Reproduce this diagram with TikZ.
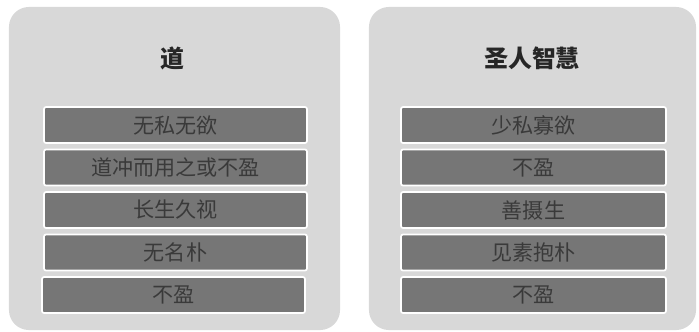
\documentclass[tikz,border=0pt]{standalone}
\usepackage{fontspec}
\setmainfont{Noto Sans CJK SC}
\usetikzlibrary{positioning}
\definecolor{panelgray}{RGB}{216,216,216}
\definecolor{bargray}{RGB}{118,118,118}
\definecolor{bartext}{RGB}{58,58,58}
\tikzset{
  panel/.style={rectangle, rounded corners=0.5cm, fill=panelgray, draw=none, inner sep=0pt},
  titletext/.style={font=\fontsize{17}{19}\selectfont\bfseries, text=black!85},
  itembox/.style={rectangle, rounded corners=1.5pt, fill=bargray, draw=white, line width=1.2pt,
    minimum height=0.9cm, inner sep=0pt, text=bartext, font=\fontsize{15}{17}\selectfont}
}

\begin{document}
\begin{tikzpicture}[x=0.025cm, y=-0.025cm]
            \useasboundingbox (0,0) rectangle (699,331);
            % two panels
            \node[panel, minimum width=8.275cm, minimum height=8.075cm] (daopanel) at (174.5,168.5) {};
            \node[panel, minimum width=8.175cm, minimum height=8.075cm] (shengpanel) at (532.5,168.5) {};
            \node[titletext] (dao) at (172,58) {道};
            \node[titletext] (sheng) at (532,58) {圣人智慧};

            \node[itembox, minimum width=6.575cm] (daoA) at (175.5,125) {无私无欲};
            \node[itembox, minimum width=6.575cm] (daoB) at (175.5,167.5) {道冲而用之或不盈};
            \node[itembox, minimum width=6.575cm] (daoC) at (175.5,210) {长生久视};
            \node[itembox, minimum width=6.575cm] (daoD) at (175.5,252.5) {无名朴};
            \node[itembox, minimum width=6.575cm] (daoE) at (173.5,295) {不盈};

            \node[itembox, minimum width=6.625cm] (shengA) at (533.5,125) {少私寡欲};
            \node[itembox, minimum width=6.625cm] (shengB) at (533.5,167.5) {不盈};
            \node[itembox, minimum width=6.625cm] (shengC) at (533.5,210) {善摄生};
            \node[itembox, minimum width=6.625cm] (shengD) at (533.5,252.5) {见素抱朴};
            \node[itembox, minimum width=6.625cm] (shengE) at (533.5,295) {不盈};
        \end{tikzpicture}
\end{document}
